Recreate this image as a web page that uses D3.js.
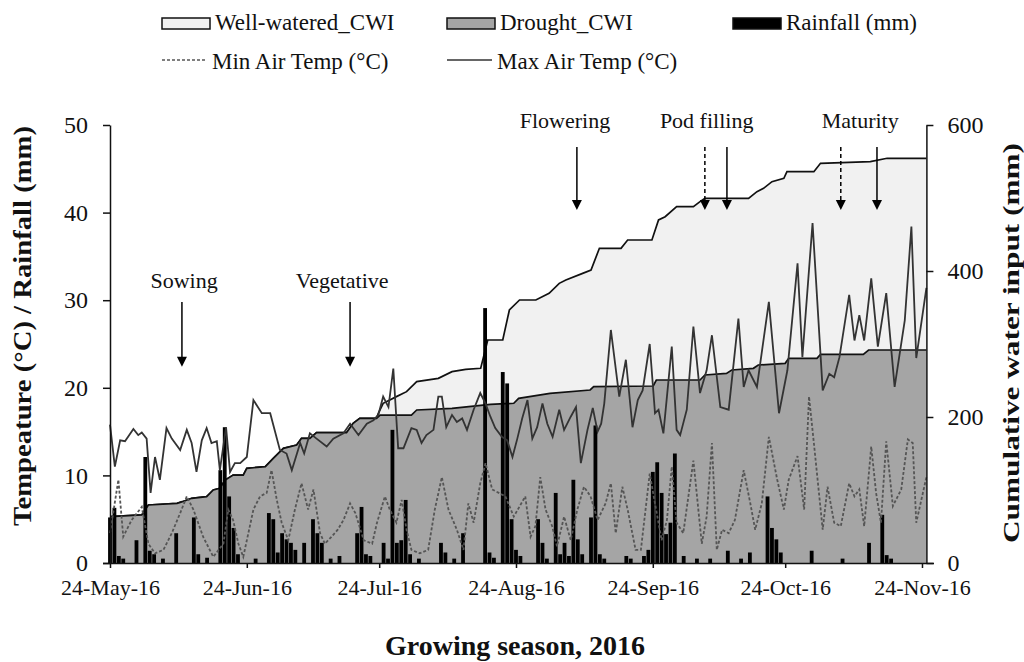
<!DOCTYPE html>
<html>
<head>
<meta charset="utf-8">
<script src="https://cdn.jsdelivr.net/npm/d3@7/dist/d3.min.js"></script>
<style>
  body { margin: 0; background: #fff; }
  svg text { font-family: "Liberation Serif", "Times New Roman", Times, "DejaVu Serif", serif; fill: #111; }
</style>
</head>
<body>
<script>
// days since 24-May-16
var tickDays = [0, 31, 61, 92, 123, 153, 184];
var tickLabels = ["24-May-16", "24-Jun-16", "24-Jul-16", "24-Aug-16", "24-Sep-16", "24-Oct-16", "24-Nov-16"];
var leftTicks = [0, 10, 20, 30, 40, 50];
var rightTicks = [0, 200, 400, 600];

// [day, °C]
var maxTemp = [[0,15.8],[1.1,11],[2.3,14],[3.4,13.9],[5.3,15.3],[6.4,14.6],[7.2,14.9],[8.3,14.2],[9.2,8],[10.2,12.1],
  [11.3,9.5],[12.8,15.4],[14,14.2],[15.9,12.9],[17.4,15.2],[18.5,13.7],[19.6,10.4],[20.8,14],[21.9,15.4],[23,13.7],
  [24.2,13.9],[24.9,10.6],[26.3,15.5],[27.2,10.4],[28.3,11.4],[29.5,11.4],[31,12.1],[32.5,18.6],[34.4,17.1],[36.3,17.1],
  [38.5,12.9],[40,12.5],[41.2,10.6],[43.1,13.7],[44,12.5],[45.3,14.8],[46.8,14.2],[49.1,13.3],[50.6,14.2],[52.9,14.8],
  [54.4,15.9],[56.3,14.6],[58.2,15.9],[59.7,16.3],[60.8,16.9],[61.9,19],[63.1,17.8],[64.2,22.2],[65.3,13.1],[66.5,13.1],
  [68.3,15.4],[69.5,15.2],[70.6,13.7],[71.7,14.6],[73.3,15.2],[74.4,19],[75.2,19],[76.2,15.5],[77.5,16.9],[78.6,16.1],
  [79.8,16.5],[80.9,15.2],[82.4,17.5],[83.9,19.4],[85.1,18.2],[86.2,16.7],[87.3,15.4],[88.8,14.4],[90,14],[91.2,12.1],
  [92.3,14.2],[93.4,16.5],[94.6,18.6],[95.7,14.2],[96.8,15.5],[98,18.2],[99.1,15.9],[100.3,14.4],[101.8,17.5],[102.9,15.2],
  [104.4,16.7],[105.6,17.8],[106.7,11.4],[108.2,15.2],[109.4,17.7],[110.5,15],[111.3,15.9],[112,18.2],[113.5,26.6],[115.4,19],
  [116.9,23.2],[118.4,15.5],[119.6,18.6],[120.7,19.7],[122.3,25],[123.5,17.1],[124.3,17.5],[125.4,14.8],[127.3,24.7],[128.4,15.2],
  [129.2,14.6],[130.7,17.5],[132.2,27],[133.7,19.4],[135.2,22],[136.4,26],[138.3,17.8],[140.2,17.5],[142.4,27.9],[143.6,20.1],
  [144.7,22],[146.6,20.1],[149.3,29.8],[151.6,17.1],[153.5,22],[155.8,34.2],[156.9,23.5],[159.2,38.8],[161.5,19.7],[163,21.6],
  [164.1,21.2],[165.3,23.5],[167.5,30.6],[168.7,25.4],[169.8,28.3],[170.9,25.4],[172.5,32.5],[174,24.7],[175.9,30.8],[177.8,20.1],
  [180.1,27.7],[181.6,38.4],[182.7,23.4],[185,31.4]];

// [day, °C]
var minTemp = [[0,3.4],[1.9,9.5],[3,3],[4.9,4.9],[7.2,6.4],[8.7,2.2],[10.2,1.1],[12.1,1.5],[14,3.4],[15.9,5.7],
  [17.4,7.6],[18.9,6.1],[21.1,3],[23.4,0.7],[25.7,2.2],[26.8,6.1],[27.9,4.9],[29.1,2.2],[30.2,0.7],[32.5,6.1],
  [34,7.6],[35.5,8],[36.6,10.6],[37.8,7.2],[38.9,4.6],[40.4,2.6],[41.9,6.1],[43.4,9.1],[44.9,6.1],[46.1,8.4],
  [47.6,3.4],[48.7,2.2],[50.2,3],[51.6,3.8],[52.9,4.9],[54.4,6.8],[55.6,5.7],[57.5,2.6],[59.4,2.2],[60.5,4.6],
  [62.3,7.6],[63.4,6.1],[64.9,4.6],[66.1,7.2],[67.2,3.8],[68.3,1.5],[70.2,1.1],[72.1,1.5],[73.6,6.1],[75.2,9.8],
  [76.7,6.1],[78.6,3.8],[80.1,1.5],[81.2,6.8],[82.4,4.6],[83.9,9.1],[85.1,11.4],[86.6,8.4],[88.1,8],[89.6,7.6],
  [91.5,5.3],[94.1,7.6],[95.3,3],[96.4,4.2],[97.5,9.8],[98.7,6.1],[100.2,4.2],[101.3,1.9],[102.9,5.3],[104.4,2.6],
  [105.9,6.1],[107.4,8.7],[108.9,7.6],[110.5,4.9],[112.3,6.8],[113.5,9.1],[114.6,3.4],[116.1,8.7],[117.3,6.1],[119.1,1.5],
  [120.3,1.5],[122.3,10.2],[123.5,6.8],[125,2.6],[126.2,4.9],[127.3,11],[128.4,4.6],[129.9,3.4],[132.2,11.7],[134.1,2.2],
  [135.2,5.3],[136.4,13.7],[137.5,1.5],[138.7,3.8],[140.2,3.4],[141.6,4.9],[143.6,10.6],[145.1,6.8],[146.2,3.8],[147.7,6.8],
  [149.3,14.4],[151.2,9.5],[152.7,6.1],[153.8,9.5],[155.8,12.2],[157.3,6.1],[158.4,19],[159.5,13.7],[161.5,3.8],[162.6,8.7],
  [164.1,4.6],[165.6,4.2],[167.5,9.1],[168.7,7.6],[169.8,8.4],[170.9,4.2],[172.5,13.3],[173.6,8],[174.7,4.6],[175.9,13.9],
  [177.4,6.5],[179.3,8.4],[180.8,14.1],[181.9,13.7],[182.7,4.6],[185,9.8]];

// [day, mm]
var rainfall = [[0,5.2],[1,6.3],[2,0.8],[3,0.5],[6,2.6],[8,12.1],[9,1.4],[10,1],[12,0.5],[15,3.4],
  [19,5.2],[20,1],[22,0.6],[25,10.6],[26,15.5],[27,7.6],[28,4],[29,1],[33,0.5],[36,5.7],
  [37,5],[38,1.2],[39,3.4],[40,2.7],[41,2.3],[42,1.5],[44,2.3],[46,5],[47,3.4],[48,2.3],
  [50,0.5],[52,0.8],[56,3.4],[57,6.4],[58,1],[59,0.8],[62,2.3],[63,0.5],[64,15.2],[65,2.3],
  [66,2.6],[67,7.2],[68,1],[70,0.5],[75,2.3],[76,1.2],[78,0.5],[80,3.4],[85,29.1],[86,1.2],
  [87,0.6],[89,21.8],[90,20.5],[91,5],[92,1.5],[93,0.8],[97,5],[98,2.3],[99,0.5],[101,8],
  [102,1],[103,2.3],[104,0.8],[105,9.5],[106,2.7],[107,1],[109,5.2],[110,15.7],[111,1],[112,0.5],
  [117,0.8],[118,0.5],[121,0.8],[122,1.5],[123,10.4],[124,11.5],[125,8],[126,3.3],[127,4.6],[128,12.5],
  [130,0.8],[133,0.5],[136,0.5],[140,1.4],[143,0.5],[145,1.2],[149,7.6],[150,4],[151,2.7],[152,1.2],
  [159,1.4],[166,0.5],[172,2.3],[175,5.5],[176,0.9],[177,0.5]];

// [day, mm]
var wellWateredCWI = [[0,63.5],[7.2,65.8],[8.7,79.5],[15.2,81.7],[16.4,84],[18.5,88.6],[21.9,90.9],[23.4,100],[24.9,102.3],[26.1,113.7],
  [27.9,120.5],[30.2,120.5],[31,129.7],[35.2,132],[37,143.4],[39.3,157],[42.3,161.6],[43.4,170.8],[45.3,170.8],[46.8,178.5],
  [53.6,178.5],[55.1,191.3],[56.6,198.2],[60.4,198.2],[60.8,205],[61.9,218.8],[63.4,223.4],[64.9,227.9],[67.2,234.7],[69.5,248.4],
  [74.4,253],[77.5,262.1],[80.6,265.3],[84,266.7],[85.6,305.5],[89,305.5],[90.5,346.6],[92.8,360.3],[96.5,360.3],[99.5,369.4],
  [101.8,383.1],[103.3,387.7],[107.1,396.8],[109,401.4],[110.9,431.1],[115.8,431.1],[117.3,442.5],[122.8,442.5],[124.3,469.9],[125.8,474.4],
  [128.4,488.1],[132.2,488.1],[133.7,495],[134.8,499.5],[144.7,499.5],[146.6,508.7],[148.1,513.2],[150,522.4],[152.7,527],[153.4,536],
  [159.5,536],[161,547.5],[172.3,549.8],[176.1,554.4],[185,554.4]];

var droughtCWI = [[0,63.5],[7.2,65.8],[8.7,79.5],[15.2,81.7],[16.4,84],[18.5,88.6],[21.9,90.9],[23.4,100],[24.9,102.3],[26.1,113.7],
  [27.9,120.5],[30.2,120.5],[31,129.7],[35.2,132],[37,143.4],[39.3,157],[42.3,161.6],[43.4,170.8],[45.3,170.8],[46.8,178.5],
  [53.6,178.5],[55.1,191.3],[56.6,198.2],[60.4,198.2],[61.2,202.7],[68.3,202.7],[69.5,209.6],[77.5,211.9],[86.2,217.4],[91.5,218.8],
  [92.6,225.6],[99.7,232.4],[108.8,237],[109.6,241.6],[123.1,242.5],[123.8,250.7],[133.7,250.7],[134.8,257.5],[139.7,259.8],[140.9,264.4],
  [145.8,266.7],[146.9,271.2],[153,273.5],[153.8,280.4],[160.2,280.4],[161,285.8],[170.7,285.8],[171.9,291.8],[185,291.8]];

// growth stages: label day, arrow days (dashed = drought, solid = well-watered)
var stageNames = ["Sowing", "Vegetative", "Flowering", "Pod filling", "Maturity"];
var stageLabelDays = [16.8, 52.6, 103.1, 135.2, 170];
var stageArrowDays = [[16.3], [54.4], [105.8], [134.8, 139.8], [165.6, 173.8]];
var stageArrowDashed = [[false], [false], [false], [true, false], [true, false]];

var FONT = "'Liberation Serif', 'Times New Roman', Times, 'DejaVu Serif', serif";

var W = 1024, H = 662;
var svg = d3.select("body").append("svg")
    .attr("width", W)
    .attr("height", H)
    .attr("font-family", FONT);

var x = d3.scaleLinear().domain([0, 185]).range([110, 926.4]);
var yL = d3.scaleLinear().domain([0, 50]).range([563, 125]);
var yR = d3.scaleLinear().domain([0, 600]).range([563, 125]);

// cumulative water input areas
var areaR = d3.area()
    .x(function (d) { return x(d[0]); })
    .y0(yR(0))
    .y1(function (d) { return yR(d[1]); });
var lineR = d3.line()
    .x(function (d) { return x(d[0]); })
    .y(function (d) { return yR(d[1]); });

svg.append("path").datum(wellWateredCWI).attr("d", areaR).style("fill", "#f1f1f1");
svg.append("path").datum(wellWateredCWI).attr("d", lineR)
    .style("fill", "none").style("stroke", "#111").style("stroke-width", 1.7);
svg.append("path").datum(droughtCWI).attr("d", areaR).style("fill", "#a5a5a5");
svg.append("path").datum(droughtCWI).attr("d", lineR)
    .style("fill", "none").style("stroke", "#111").style("stroke-width", 1.7);

// rainfall bars
var barW = x(1) - x(0) - 0.6;
svg.selectAll("rect.rain")
    .data(rainfall)
    .enter()
    .append("rect")
    .attr("class", "rain")
    .attr("x", function (d) { return x(d[0]) - barW / 2; })
    .attr("y", function (d) { return yL(d[1]); })
    .attr("width", barW)
    .attr("height", function (d) { return yL(0) - yL(d[1]); })
    .style("fill", "#000");

// temperature lines
var lineL = d3.line()
    .x(function (d) { return x(d[0]); })
    .y(function (d) { return yL(d[1]); });

svg.append("path").datum(minTemp).attr("d", lineL)
    .style("fill", "none").style("stroke", "#555")
    .style("stroke-width", 1.8).style("stroke-dasharray", "3,2");
svg.append("path").datum(maxTemp).attr("d", lineL)
    .style("fill", "none").style("stroke", "#333").style("stroke-width", 1.8);

// axes
var axisFont = function (g, size) {
    g.attr("font-family", FONT).attr("font-size", size);
    g.selectAll("text").style("font-family", FONT).style("font-size", size + "px").style("fill", "#111");
    g.selectAll("line,path").style("stroke", "#111").style("stroke-width", 1.5);
};

svg.append("g")
    .attr("transform", "translate(0," + yL(0) + ")")
    .call(d3.axisBottom(x).tickValues(tickDays).tickFormat(function (d, i) { return tickLabels[i]; })
        .tickSize(5).tickSizeOuter(0).tickPadding(11))
    .call(function (g) { axisFont(g, 22); })
    .call(function (g) { g.select(".domain").attr("d", "M103,0.5H934"); });

svg.append("g")
    .attr("transform", "translate(" + x(0) + ",0)")
    .call(d3.axisLeft(yL).tickValues(leftTicks).tickSize(7).tickSizeOuter(0).tickPadding(15))
    .call(function (g) { axisFont(g, 24); });

svg.append("g")
    .attr("transform", "translate(" + x(185) + ",0)")
    .call(d3.axisRight(yR).tickValues(rightTicks).tickSize(7).tickSizeOuter(0).tickPadding(14))
    .call(function (g) { axisFont(g, 24); });

// axis titles
svg.append("text")
    .attr("transform", "translate(31,326) rotate(-90)")
    .attr("text-anchor", "middle")
    .attr("textLength", 400).attr("lengthAdjust", "spacingAndGlyphs")
    .style("font-weight", "bold").style("font-size", "25px")
    .text("Tempeature (°C) / Rainfall (mm)");

svg.append("text")
    .attr("transform", "translate(1019,343) rotate(-90)")
    .attr("text-anchor", "middle")
    .attr("textLength", 400).attr("lengthAdjust", "spacingAndGlyphs")
    .style("font-weight", "bold").style("font-size", "24px")
    .text("Cumulative water input (mm)");

svg.append("text")
    .attr("x", 515).attr("y", 655)
    .attr("text-anchor", "middle")
    .style("font-weight", "bold").style("font-size", "28px")
    .text("Growing season, 2016");

// growth stage annotations
var stageRows = [
    { label: 32.2, top: 29.8, bottom: 22.4 },
    { label: 50.4, top: 47.5, bottom: 40.3 }
];
stageNames.forEach(function (name, i) {
    var row = i < 2 ? stageRows[0] : stageRows[1];
    svg.append("text")
        .attr("x", x(stageLabelDays[i]))
        .attr("y", yL(row.label) + 7)
        .attr("text-anchor", "middle")
        .style("font-size", "22px")
        .text(name);
    stageArrowDays[i].forEach(function (d, j) {
        var ax = x(d);
        var yb = yL(row.bottom);
        svg.append("line")
            .attr("x1", ax).attr("x2", ax)
            .attr("y1", yL(row.top)).attr("y2", yb - 8)
            .style("stroke", "#000").style("stroke-width", 1.5)
            .style("stroke-dasharray", stageArrowDashed[i][j] ? "4,3" : null);
        svg.append("path")
            .attr("d", "M" + (ax - 5) + "," + (yb - 10) + "L" + (ax + 5) + "," + (yb - 10) + "L" + ax + "," + yb + "Z")
            .style("fill", "#000");
    });
});

// legend
var legend = svg.append("g");
var legendRow1 = [
    { label: "Well-watered_CWI", x: 162, fill: "#f1f1f1" },
    { label: "Drought_CWI", x: 447, fill: "#a5a5a5" },
    { label: "Rainfall (mm)", x: 733, fill: "#000" }
];
legendRow1.forEach(function (d) {
    legend.append("rect")
        .attr("x", d.x).attr("y", 18).attr("width", 48).attr("height", 11)
        .style("fill", d.fill).style("stroke", "#111").style("stroke-width", 1.5);
    legend.append("text")
        .attr("x", d.x + 53).attr("y", 30)
        .style("font-size", "23px")
        .text(d.label);
});
var legendRow2 = [
    { label: "Min Air Temp (°C)", x: 162, dash: "3,2", color: "#555" },
    { label: "Max Air Temp (°C)", x: 447, dash: null, color: "#333" }
];
legendRow2.forEach(function (d) {
    legend.append("line")
        .attr("x1", d.x).attr("x2", d.x + 45).attr("y1", 60).attr("y2", 60)
        .style("stroke", d.color).style("stroke-width", 1.6).style("stroke-dasharray", d.dash);
    legend.append("text")
        .attr("x", d.x + 50).attr("y", 69)
        .style("font-size", "23px")
        .text(d.label);
});
</script>
</body>
</html>
